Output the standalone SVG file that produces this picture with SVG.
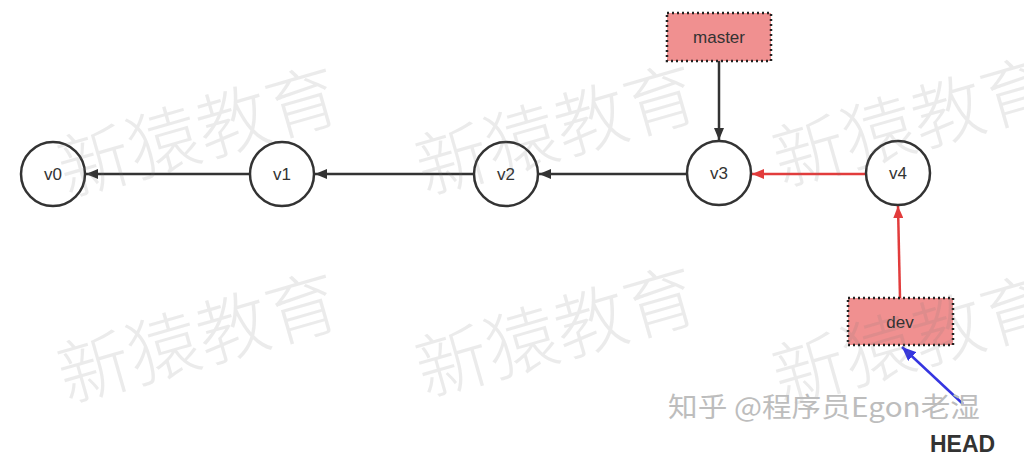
<svg xmlns="http://www.w3.org/2000/svg" width="1024" height="475" viewBox="0 0 1024 475">
  <style>
    .node circle { fill: #ffffff; stroke: #333333; stroke-width: 2.5; }
    .lbl { font-family: "Liberation Sans", Arial, sans-serif; font-size: 17px; fill: #333333; text-anchor: middle; }
    .box rect { fill: #f09090; stroke: #222222; stroke-width: 2.5; stroke-dasharray: 2 3; }
    .edge { fill: none; stroke-width: 2.5; }
    .wm { font-family: "Noto Sans CJK SC", sans-serif; font-weight: 300; font-size: 72px; fill: #7a7a7a; fill-opacity: 0.15; }
    .wm2 { font-family: "Noto Sans CJK SC", sans-serif; font-size: 27px; fill: #bdbdbd; }
  </style>
  <defs>
    <marker id="ab" viewBox="0 0 12 10" refX="12" refY="5" markerWidth="12" markerHeight="10" markerUnits="userSpaceOnUse" orient="auto">
      <path d="M0,0 L12,5 L0,10 Z" fill="#333333"/>
    </marker>
    <marker id="ar" viewBox="0 0 12 10" refX="12" refY="5" markerWidth="12" markerHeight="10" markerUnits="userSpaceOnUse" orient="auto">
      <path d="M0,0 L12,5 L0,10 Z" fill="#e23c3c"/>
    </marker>
    <marker id="abl" viewBox="0 0 14 12" refX="14" refY="6" markerWidth="14" markerHeight="12" markerUnits="userSpaceOnUse" orient="auto">
      <path d="M0,0 L14,6 L0,12 Z" fill="#3535e0"/>
    </marker>
  </defs>
  <rect width="1024" height="475" fill="#ffffff"/>

  <g id="connectors">
    <line class="edge" x1="250" y1="174" x2="86" y2="174" stroke="#333333" marker-end="url(#ab)"/>
    <line class="edge" x1="474" y1="174" x2="315" y2="174" stroke="#333333" marker-end="url(#ab)"/>
    <line class="edge" x1="687" y1="174" x2="539" y2="174" stroke="#333333" marker-end="url(#ab)"/>
    <line class="edge" x1="719" y1="61" x2="719" y2="140" stroke="#333333" marker-end="url(#ab)"/>
    <line class="edge" x1="865" y1="174" x2="752" y2="174" stroke="#e23c3c" marker-end="url(#ar)"/>
    <line class="edge" x1="900" y1="298" x2="898" y2="206" stroke="#e23c3c" marker-end="url(#ar)"/>
    <line class="edge" x1="963" y1="404" x2="902" y2="347" stroke="#3535e0" marker-end="url(#abl)"/>
  </g>

  <g id="v0" class="node"><circle cx="53" cy="174" r="32"/><text class="lbl" x="53" y="180">v0</text></g>
  <g id="v1" class="node"><circle cx="282" cy="174" r="32"/><text class="lbl" x="282" y="180">v1</text></g>
  <g id="v2" class="node"><circle cx="506" cy="174" r="32"/><text class="lbl" x="506" y="180">v2</text></g>
  <g id="v3" class="node"><circle cx="719" cy="173" r="32"/><text class="lbl" x="719" y="179">v3</text></g>
  <g id="v4" class="node"><circle cx="898" cy="173" r="32"/><text class="lbl" x="898" y="179">v4</text></g>

  <g id="master" class="box"><rect x="667" y="13" width="104" height="48"/><text class="lbl" x="719" y="43" font-size="18">master</text></g>
  <g id="dev" class="box"><rect x="848" y="298" width="105" height="47"/><text class="lbl" x="900" y="328" font-size="18">dev</text></g>

  <g id="HEAD"><text x="930" y="452" font-family="Liberation Sans, Arial, sans-serif" font-size="23" font-weight="bold" fill="#333333">HEAD</text></g>

  <g id="watermarks">
    <text class="wm" x="67" y="197" transform="rotate(-16 67 197)">新猿教育</text>
    <text class="wm" x="425" y="195" transform="rotate(-16 425 195)">新猿教育</text>
    <text class="wm" x="782" y="187" transform="rotate(-16 782 187)">新猿教育</text>
    <text class="wm" x="67" y="403" transform="rotate(-16 67 403)">新猿教育</text>
    <text class="wm" x="425" y="397" transform="rotate(-16 425 397)">新猿教育</text>
    <text class="wm" x="782" y="405" transform="rotate(-16 782 405)">新猿教育</text>
    <text class="wm2" x="668" y="417" textLength="312" lengthAdjust="spacingAndGlyphs">知乎 @程序员Egon老湿</text>
  </g>
</svg>
